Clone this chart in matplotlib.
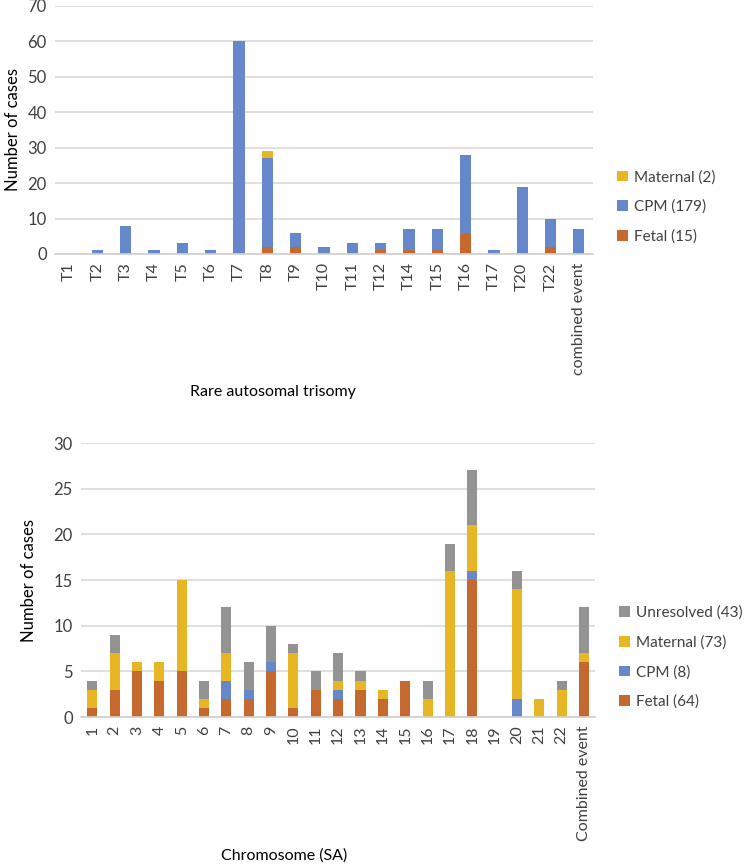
import numpy as np
import matplotlib.pyplot as plt

plt.rcParams['font.family'] = ['Lato', 'DejaVu Sans']

# Top chart: rare autosomal trisomy
rat_labels = ['T1', 'T2', 'T3', 'T4', 'T5', 'T6', 'T7', 'T8', 'T9', 'T10', 'T11',
              'T12', 'T14', 'T15', 'T16', 'T17', 'T20', 'T22', 'combined event']
rat_fetal = [0, 0, 0, 0, 0, 0, 0, 2, 2, 0, 0, 1, 1, 1, 6, 0, 0, 2, 0]
rat_cpm = [0, 1, 8, 1, 3, 1, 60, 25, 4, 2, 3, 2, 6, 6, 22, 1, 19, 8, 7]
rat_maternal = [0, 0, 0, 0, 0, 0, 0, 2, 0, 0, 0, 0, 0, 0, 0, 0, 0, 0, 0]

# Bottom chart: segmental aneuploidy by chromosome
sa_labels = [str(i) for i in range(1, 23)] + ['Combined event']
sa_fetal = [1, 3, 5, 4, 5, 1, 2, 2, 5, 1, 3, 2, 3, 2, 4, 0, 0, 15, 0, 0, 0, 0, 6]
sa_cpm = [0, 0, 0, 0, 0, 0, 2, 1, 1, 0, 0, 1, 0, 0, 0, 0, 0, 1, 0, 2, 0, 0, 0]
sa_maternal = [2, 4, 1, 2, 10, 1, 3, 0, 0, 6, 0, 1, 1, 1, 0, 2, 16, 5, 0, 12, 2, 3, 1]
sa_unresolved = [1, 2, 0, 0, 0, 2, 5, 3, 4, 1, 2, 3, 1, 0, 0, 2, 3, 6, 0, 2, 0, 1, 5]

C_FETAL = '#c5692f'
C_CPM = '#6687c9'
C_MAT = '#e6b624'
C_UNR = '#939393'
TXT = '#404040'

fig = plt.figure(figsize=(7.44, 8.66), dpi=100)


def style_axes(ax, labels, ymax, step):
    ax.set_xlim(-0.5, len(labels) - 0.5)
    ax.set_ylim(0, ymax)
    ax.set_yticks(np.arange(0, ymax + 1, step))
    ax.set_xticks(range(len(labels)))
    ax.set_xticklabels(labels, rotation=90)
    ax.yaxis.grid(True, color='#d9d9d9', lw=1.2)
    ax.set_axisbelow(True)
    for s in ['top', 'right', 'left']:
        ax.spines[s].set_visible(False)
    ax.spines['bottom'].set_color('#d0d0d0')
    ax.spines['bottom'].set_linewidth(1.2)
    ax.tick_params(axis='x', length=0, labelsize=11.5, colors=TXT, pad=6)
    ax.tick_params(axis='y', length=0, labelsize=12, colors=TXT, pad=6)
    ax.set_ylabel('Number of cases', fontsize=12, color='black')


# top
ax1 = fig.add_axes([0.074, 0.7067, 0.723, 0.2864])
x = np.arange(len(rat_labels))
w = 0.4
f = np.array(rat_fetal)
c = np.array(rat_cpm)
m = np.array(rat_maternal)
ax1.bar(x, f, w, color=C_FETAL, label='Fetal (15)')
ax1.bar(x, c, w, bottom=f, color=C_CPM, label='CPM (179)')
ax1.bar(x, m, w, bottom=f + c, color=C_MAT, label='Maternal (2)')
style_axes(ax1, rat_labels, 70, 10)
ax1.yaxis.set_label_coords(-0.063, 0.5)
ax1.set_xlabel('Rare autosomal trisomy', fontsize=11.5, color='black', va='center')
ax1.xaxis.set_label_coords((273 - 55) / 538, -138 / 248)
h, l = ax1.get_legend_handles_labels()
ax1.legend(h[::-1], l[::-1], loc='center left', bbox_to_anchor=(1.02, 0.19),
           frameon=False, fontsize=11, handlelength=0.7, handleheight=0.7,
           handletextpad=0.4, labelspacing=1.0, labelcolor=TXT)

# bottom
ax2 = fig.add_axes([0.109, 0.172, 0.691, 0.3164])
x2 = np.arange(len(sa_labels))
w2 = 0.45
f2 = np.array(sa_fetal)
c2 = np.array(sa_cpm)
m2 = np.array(sa_maternal)
u2 = np.array(sa_unresolved)
ax2.bar(x2, f2, w2, color=C_FETAL, label='Fetal (64)')
ax2.bar(x2, c2, w2, bottom=f2, color=C_CPM, label='CPM (8)')
ax2.bar(x2, m2, w2, bottom=f2 + c2, color=C_MAT, label='Maternal (73)')
ax2.bar(x2, u2, w2, bottom=f2 + c2 + m2, color=C_UNR, label='Unresolved (43)')
style_axes(ax2, sa_labels, 30, 5)
ax2.yaxis.set_label_coords(-0.085, 0.5)
ax2.set_xlabel('Chromosome (SA)', fontsize=11.5, color='black', va='center')
ax2.xaxis.set_label_coords((284 - 81) / 514, -138 / 274)
h, l = ax2.get_legend_handles_labels()
ax2.legend(h[::-1], l[::-1], loc='center left', bbox_to_anchor=(1.02, 0.218),
           frameon=False, fontsize=11, handlelength=0.7, handleheight=0.7,
           handletextpad=0.4, labelspacing=1.0, labelcolor=TXT)

fig.savefig('out.png', dpi=100)
